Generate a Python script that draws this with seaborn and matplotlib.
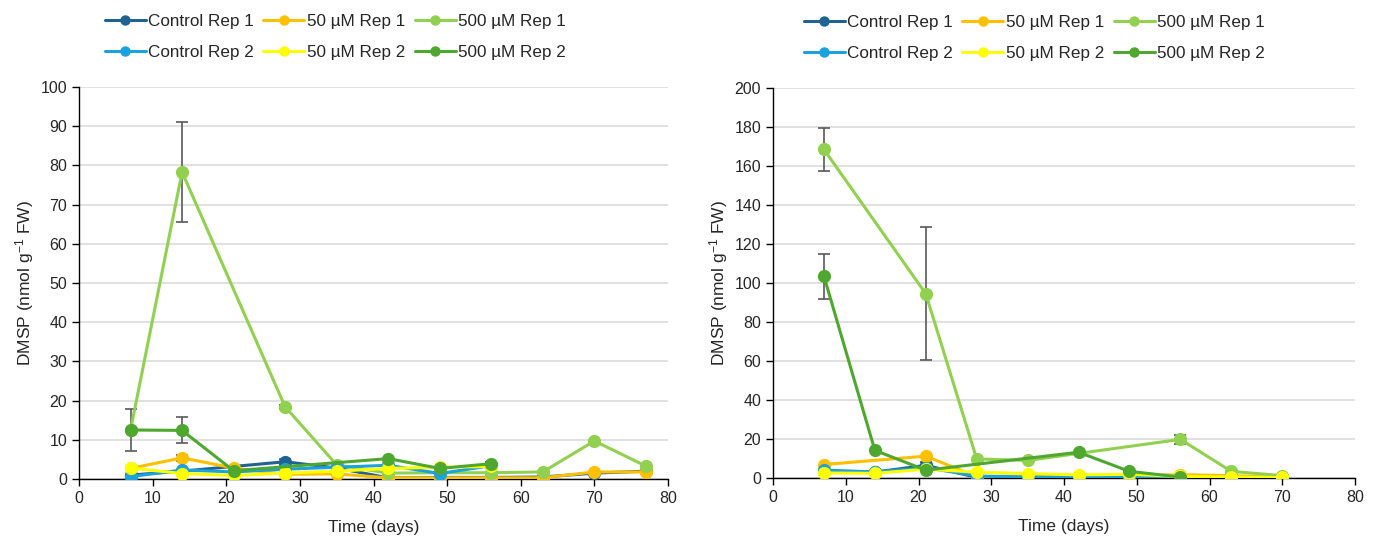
import numpy as np
import pandas as pd
import matplotlib
matplotlib.use("Agg")
import matplotlib.pyplot as plt
from matplotlib.lines import Line2D
import seaborn as sns

nan = np.nan

# ---------------- data ----------------
series_order = ["Control Rep 1", "50 µM Rep 1", "500 µM Rep 1",
                "Control Rep 2", "50 µM Rep 2", "500 µM Rep 2"]
legend_order = ["Control Rep 1", "Control Rep 2", "50 µM Rep 1",
                "50 µM Rep 2", "500 µM Rep 1", "500 µM Rep 2"]
colors = {"Control Rep 1": "#1F6391", "Control Rep 2": "#1BA1DC",
          "50 µM Rep 1": "#FFC000", "50 µM Rep 2": "#FFFF00",
          "500 µM Rep 1": "#92D050", "500 µM Rep 2": "#4EA72E"}

# Left panel
left_days = [7, 14, 21, 28, 35, 42, 49, 56, 63, 70, 77]
left_ctrl1 = [1.0, 2.0, nan, 4.4, 2.8, 0.3, 0.4, 0.4, 0.5, 1.5, 2.0]
left_ctrl2 = [0.6, 2.3, 1.8, 2.5, 3.0, 3.5, 1.4, 3.4, nan, nan, nan]
left_50_1 = [2.7, 5.4, 2.8, 1.2, 1.3, 0.3, 0.3, 0.3, 0.3, 1.8, 1.8]
left_50_2 = [2.8, 1.4, 0.9, 1.5, 2.0, 2.7, 3.0, 3.2, nan, nan, nan]
left_500_1 = [12.5, 78.3, nan, 18.4, 3.6, 1.5, 1.6, 1.6, 1.8, 9.7, 3.3]
left_500_2 = [12.5, 12.4, 2.1, nan, nan, 5.2, 2.7, 3.9, nan, nan, nan]
left_err_series = ["500 µM Rep 2", "500 µM Rep 2", "500 µM Rep 1", "500 µM Rep 1",
                   "50 µM Rep 1", "Control Rep 1", "500 µM Rep 1", "500 µM Rep 2"]
left_err_days = [7, 14, 14, 28, 14, 28, 35, 56]
left_err_vals = [5.3, 3.3, 12.7, 0.6, 0.8, 0.8, 0.5, 0.5]

# Right panel
right_days = [7, 14, 21, 28, 35, 42, 49, 56, 63, 70]
right_ctrl1 = [3.0, 3.0, 6.5, 0.3, 0.3, 0.2, 0.3, 0.3, 0.3, 0.3]
right_ctrl2 = [4.1, 3.1, 5.3, 1.0, 0.5, 0.5, 0.5, 0.4, 0.3, 0.3]
right_50_1 = [6.9, nan, 11.2, 0.7, 1.0, 1.2, 1.3, 1.7, 1.2, 0.5]
right_50_2 = [2.6, 2.4, 4.5, 3.0, 2.3, 1.6, 1.9, 0.8, 0.5, 0.3]
right_500_1 = [168.5, nan, 94.5, 9.8, 9.0, nan, nan, 19.8, 3.4, 1.2]
right_500_2 = [103.5, 14.2, 4.0, nan, nan, 13.2, 3.4, 0.5, nan, nan]
right_err_series = ["500 µM Rep 1", "500 µM Rep 1", "500 µM Rep 2",
                    "500 µM Rep 1", "Control Rep 1"]
right_err_days = [7, 21, 7, 56, 21]
right_err_vals = [11.0, 34.0, 11.5, 2.5, 1.5]

left_ymax, left_ystep = 100, 10
right_ymax, right_ystep = 200, 20


def make_df(days, values_by_series):
    rows = []
    for name, vals in values_by_series.items():
        for d, v in zip(days, vals):
            if not np.isnan(v):
                rows.append({"day": d, "value": v, "series": name})
    return pd.DataFrame(rows)


left_df = make_df(left_days, {
    "Control Rep 1": left_ctrl1, "50 µM Rep 1": left_50_1, "500 µM Rep 1": left_500_1,
    "Control Rep 2": left_ctrl2, "50 µM Rep 2": left_50_2, "500 µM Rep 2": left_500_2})
right_df = make_df(right_days, {
    "Control Rep 1": right_ctrl1, "50 µM Rep 1": right_50_1, "500 µM Rep 1": right_500_1,
    "Control Rep 2": right_ctrl2, "50 µM Rep 2": right_50_2, "500 µM Rep 2": right_500_2})

# ---------------- style ----------------
sns.set_theme(style="white")
plt.rcParams["font.family"] = ["Liberation Sans", "DejaVu Sans"]
plt.rcParams["mathtext.default"] = "regular"

fig = plt.figure(figsize=(13.78, 5.36), dpi=100)
ax1 = fig.add_axes([79 / 1378, 1 - 479 / 536, 589 / 1378, 392 / 536])
ax2 = fig.add_axes([773 / 1378, 1 - 478 / 536, 582 / 1378, 390 / 536])


def draw(ax, df, err_series, err_days, err_vals, ymax, ystep, leg_x, ylabpad):
    for s, d, e in zip(err_series, err_days, err_vals):
        y = df[(df.series == s) & (df.day == d)]["value"].iloc[0]
        ax.errorbar([d], [y], yerr=[e], fmt="none", ecolor="#595959",
                    elinewidth=1.2, capsize=4, capthick=1.2, zorder=1)
    sns.lineplot(data=df, x="day", y="value", hue="series", hue_order=series_order,
                 palette=colors, marker="o", markersize=9.5, markeredgewidth=0,
                 linewidth=2.2, errorbar=None, legend=False, ax=ax, zorder=3)
    ax.set_xlim(0, 80)
    ax.set_ylim(0, ymax)
    ax.set_xticks(np.arange(0, 81, 10))
    ax.set_yticks(np.arange(0, ymax + 1, ystep))
    ax.yaxis.grid(True, color="#D9D9D9", linewidth=1.1)
    ax.xaxis.grid(False)
    ax.set_axisbelow(True)
    for sp in ["top", "right"]:
        ax.spines[sp].set_visible(False)
    for sp in ["left", "bottom"]:
        ax.spines[sp].set_color("black")
        ax.spines[sp].set_linewidth(1.0)
    ax.tick_params(axis="both", direction="out", length=5, width=1.0,
                   color="black", labelsize=11.5, labelcolor="#262626",
                   left=True, bottom=True)
    ax.set_xlabel("Time (days)", fontsize=12.5, color="#262626", labelpad=10)
    ax.set_ylabel("DMSP (nmol g$^{-1}$ FW)", fontsize=12.5, color="#262626",
                  labelpad=ylabpad)
    handles = [Line2D([0], [0], color=colors[s], lw=2.2, marker="o",
                      markersize=7.5, markeredgewidth=0) for s in legend_order]
    ax.legend(handles, legend_order, ncol=3, loc="center", bbox_to_anchor=(leg_x, 1.128),
              frameon=False, fontsize=12.3, handlelength=2.4, handletextpad=0.15,
              columnspacing=0.55, labelspacing=0.95, labelcolor="#262626")


draw(ax1, left_df, left_err_series, left_err_days, left_err_vals, left_ymax, left_ystep,
     0.435, 3)
draw(ax2, right_df, right_err_series, right_err_days, right_err_vals, right_ymax,
     right_ystep, 0.449, 3)

fig.savefig("out.png", dpi=100)
